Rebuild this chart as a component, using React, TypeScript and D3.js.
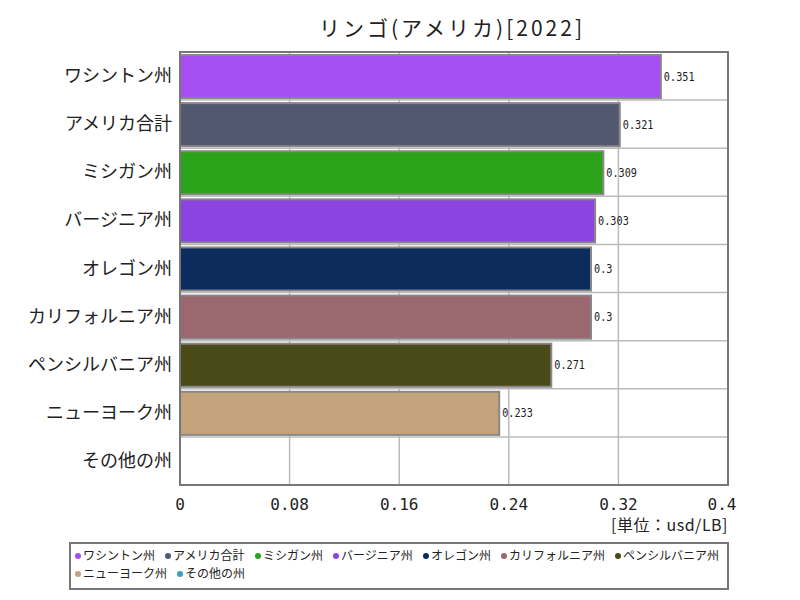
import React from "react";
import * as d3 from "d3";

const categories = ["ワシントン州", "アメリカ合計", "ミシガン州", "バージニア州", "オレゴン州", "カリフォルニア州", "ペンシルバニア州", "ニューヨーク州", "その他の州"];
const values: (number | null)[] = [0.351, 0.321, 0.309, 0.303, 0.3, 0.3, 0.271, 0.233, null];
const colors = ["#a64ff0", "#515870", "#2aa31a", "#8c44e0", "#0b2c5c", "#9c6870", "#4a4a18", "#c4a27c", "#3aa0c0"];
const xTicks = [0, 0.08, 0.16, 0.24, 0.32, 0.4];
const title = "リンゴ(アメリカ)[2022]";
const unitLabel = "[単位：usd/LB]";

const FONT = "'Noto Sans CJK JP', sans-serif";

export default function App() {
  const W = 800, H = 600;
  const left = 180, right = 728, top = 52, bottom = 485;
  const x = d3.scaleLinear().domain([0, 0.4]).range([left, right]);
  const band = (bottom - top) / categories.length;

  // legend layout
  const legendRows: { i: number; x: number; row: number }[] = [];
  {
    let cx = 78, row = 0;
    categories.forEach((c, i) => {
      const w = 18 + c.length * 12;
      if (cx + w - 14 > 728) { row++; cx = 78; }
      legendRows.push({ i, x: cx, row });
      cx += w;
    });
  }

  return (
    <svg width={W} height={H} style={{ position: "absolute", left: 0, top: 0, fontFamily: FONT }}>
      <rect x={0} y={0} width={W} height={H} fill="#fff" />
      <text x={(left + right) / 2 - 2} y={36} textAnchor="middle" fontSize={21} letterSpacing={3} fill="#222">{title}</text>
      {/* grid */}
      {xTicks.map((t) => (
        <line key={"g" + t} x1={x(t)} x2={x(t)} y1={top} y2={bottom} stroke="#bbb" strokeWidth={1.5} />
      ))}
      {categories.map((c, i) => (
        i > 0 ? <line key={"h" + c} x1={left} x2={right} y1={top + band * i} y2={top + band * i} stroke="#bbb" strokeWidth={1.5} /> : null
      ))}
      {/* bars */}
      {categories.map((c, i) => {
        const v = values[i];
        if (v == null) return null;
        const y0 = top + band * i + 3;
        const h = band - 5;
        const lx = x(v) + 3;
        return (
          <g key={c}>
            <rect x={x(0)} y={y0} width={x(v) - x(0)} height={h} fill={colors[i]} stroke="#888" strokeWidth={2} />
            <text x={lx} y={y0 + h / 2 + 4} fontSize={12} fill="#222" fontFamily="'DejaVu Sans Mono', monospace" transform={`translate(${lx},0) scale(0.85,1) translate(${-lx},0)`}>{String(v)}</text>
          </g>
        );
      })}
      {/* frame */}
      <rect x={left} y={top} width={right - left} height={bottom - top} fill="none" stroke="#777" strokeWidth={2} />
      {/* y labels */}
      {categories.map((c, i) => (
        <text key={"yl" + c} x={172} y={top + band * i + band / 2 + 6} textAnchor="end" fontSize={18} fill="#222">{c}</text>
      ))}
      {/* x ticks */}
      {xTicks.map((t, i) => (
        <text key={"xt" + t} x={i === xTicks.length - 1 ? x(t) - 6 : x(t)} y={510} textAnchor="middle" fontSize={16} fill="#222" fontFamily="'DejaVu Sans Mono', monospace">{String(t)}</text>
      ))}
      <text x={right} y={531} textAnchor="end" fontSize={16} letterSpacing={0.5} fill="#222">{unitLabel}</text>
      {/* legend */}
      <rect x={70} y={543} width={658} height={46} fill="#fff" stroke="#777" strokeWidth={2} />
      {legendRows.map(({ i, x: lx, row }) => (
        <g key={"lg" + i}>
          <circle cx={lx} cy={556 + row * 18} r={3} fill={colors[i]} />
          <text x={lx + 5} y={560 + row * 18} fontSize={12} fill="#222">{categories[i]}</text>
        </g>
      ))}
    </svg>
  );
}
